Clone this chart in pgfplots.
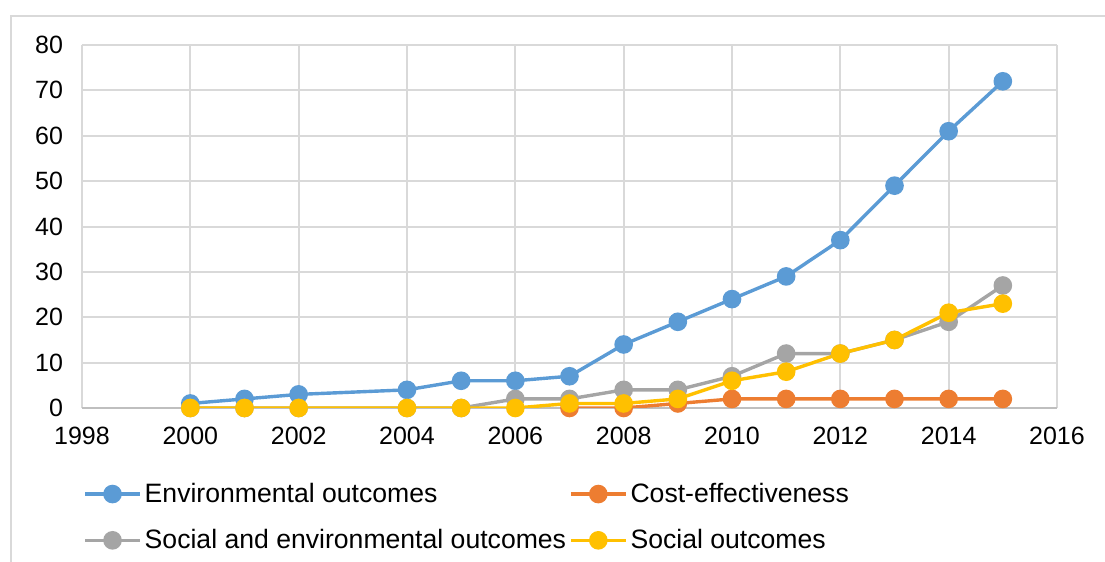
\documentclass[border=0pt]{standalone}
\usepackage{pgfplots}
\pgfplotsset{compat=1.18}
\usepackage{fontspec}
\setmainfont{Liberation Sans}

\definecolor{envblue}{HTML}{5B9BD5}
\definecolor{costorange}{HTML}{ED7D31}
\definecolor{soceng}{HTML}{A5A5A5}
\definecolor{socyellow}{HTML}{FFC000}
\definecolor{gridgray}{HTML}{D9D9D9}

\begin{document}
\begin{tikzpicture}
\begin{axis}[
    scale only axis,
    width=487.5pt, height=181.5pt,
    xmin=1998, xmax=2016,
    ymin=0, ymax=80,
    xtick={1998,2000,...,2016},
    ytick={0,10,...,80},
    /pgf/number format/assume math mode=true,
    x tick label style={/pgf/number format/1000 sep={}, font=\fontsize{12.5}{14}\selectfont, yshift=-6pt},
    y tick label style={font=\fontsize{12.5}{14}\selectfont, xshift=-6pt},
    major tick length=0pt,
    axis line style={draw=none},
    xmajorgrids, ymajorgrids,
    grid style={gridgray, line width=1pt},
    extra y ticks={0},
    extra y tick labels={},
    extra y tick style={grid style={color=black!25, line width=1pt}},
    every axis plot/.append style={line width=1.7pt, mark=*, mark size=3.8pt, mark options={solid}},
    legend columns=2,
    legend cell align=left,
    legend style={at={(-0.0052,-0.186)}, anchor=north west, draw=none, fill=none,
        font=\fontsize{13.3}{15}\selectfont, row sep=9pt,
        /tikz/every odd column/.append style={column sep=0pt},
        /tikz/every even column/.append style={column sep=0pt},
        nodes={inner sep=1.5pt}},
    legend image code/.code={\draw[mark repeat=2, mark phase=2]
        plot coordinates {(0pt,0pt) (13.75pt,0pt) (27.5pt,0pt)};},
]
\addplot[envblue, mark options={fill=envblue, draw=envblue}] coordinates {
    (2000,1)(2001,2)(2002,3)(2004,4)(2005,6)(2006,6)(2007,7)(2008,14)
    (2009,19)(2010,24)(2011,29)(2012,37)(2013,49)(2014,61)(2015,72)};
\addlegendentry{Environmental outcomes}
\addplot[costorange, mark options={fill=costorange, draw=costorange}] coordinates {
    (2007,0)(2008,0)(2009,1)(2010,2)(2011,2)(2012,2)(2013,2)(2014,2)(2015,2)};
\addlegendentry{Cost-effectiveness}
\addplot[soceng, mark options={fill=soceng, draw=soceng}] coordinates {
    (2000,0)(2001,0)(2002,0)(2004,0)(2005,0)(2006,2)(2007,2)(2008,4)
    (2009,4)(2010,7)(2011,12)(2012,12)(2013,15)(2014,19)(2015,27)};
\addlegendentry{Social and environmental outcomes}
\addplot[socyellow, mark options={fill=socyellow, draw=socyellow}] coordinates {
    (2000,0)(2001,0)(2002,0)(2004,0)(2005,0)(2006,0)(2007,1)(2008,1)
    (2009,2)(2010,6)(2011,8)(2012,12)(2013,15)(2014,21)(2015,23)};
\addlegendentry{Social outcomes}
\end{axis}
\pgfresetboundingbox
\path[use as bounding box] (-41pt,-77pt) rectangle (511.5pt,204pt);
\draw[black!15, line width=1pt] (-35.5pt,-90pt) -- (-35.5pt,196pt) -- (530pt,196pt);
\end{tikzpicture}
\end{document}
